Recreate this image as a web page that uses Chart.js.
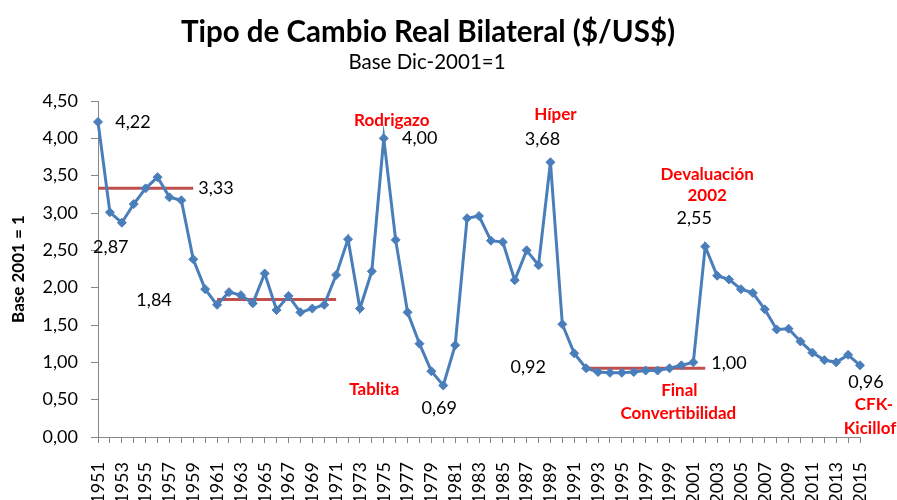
<!DOCTYPE html>
<html>
<head>
<meta charset="utf-8">
<script src="https://cdn.jsdelivr.net/npm/chart.js@4.4.1/dist/chart.umd.min.js"></script>
<style>
  html, body { margin: 0; padding: 0; background: #fff; }
  #wrap { width: 897px; height: 500px; }
</style>
</head>
<body>
<div id="wrap"><canvas id="tcrChart" width="897" height="500"></canvas></div>
<script>
// años 1951-2015
const years = [];
for (let y = 1951; y <= 2015; y++) years.push(String(y));

// TCR bilateral, base dic-2001 = 1
const tcr = [
    4.22, 3.01, 2.87, 3.12, 3.33, 3.48, 3.21, 3.17, 2.38, 1.98,   // 1951-1960
    1.77, 1.94, 1.90, 1.79, 2.19, 1.70, 1.89, 1.67, 1.72, 1.77,   // 1961-1970
    2.17, 2.65, 1.72, 2.22, 4.00, 2.64, 1.67, 1.25, 0.88, 0.69,   // 1971-1980
    1.23, 2.93, 2.96, 2.63, 2.61, 2.10, 2.50, 2.30, 3.68, 1.51,   // 1981-1990
    1.12, 0.92, 0.87, 0.86, 0.86, 0.87, 0.89, 0.89, 0.92, 0.96,   // 1991-2000
    1.00, 2.55, 2.16, 2.11, 1.98, 1.93, 1.71, 1.44, 1.45, 1.28,   // 2001-2010
    1.13, 1.03, 1.00, 1.10, 0.96                                  // 2011-2015
];

// promedios por periodo
const avgFrom = ['1951', '1961', '1992'];
const avgTo = ['1959', '1971', '2002'];
const avgValue = [3.33, 1.84, 0.92];

const yTicks = [0, 0.5, 1, 1.5, 2, 2.5, 3, 3.5, 4, 4.5];

const FONT = 'Lato, "Open Sans", sans-serif';
const fmt = v => v.toFixed(2).replace('.', ',');

// one dataset per average period, null outside the range
const avgDatasets = avgValue.map((v, i) => {
    const a = years.indexOf(avgFrom[i]);
    const b = years.indexOf(avgTo[i]);
    return {
        data: years.map((_, k) => (k >= a && k <= b ? v : null)),
        borderColor: '#C0504D',
        borderWidth: 3,
        pointRadius: 0,
        spanGaps: false,
        order: 1
    };
});

// text notes, anchored to a year/value, offset in px
const notes = [
    { text: '4,22', year: '1951', value: 4.22, dx: 35, dy: 0 },
    { text: '2,87', year: '1953', value: 2.87, dx: -11, dy: 24 },
    { text: '3,33', year: '1959', value: 3.33, dx: 5, dy: 0, align: 'left' },
    { text: '1,84', year: '1961', value: 1.84, dx: -63, dy: 1 },
    { text: '4,00', year: '1975', value: 4.00, dx: 36, dy: 0 },
    { text: '0,69', year: '1980', value: 0.69, dx: -4, dy: 23 },
    { text: '3,68', year: '1989', value: 3.68, dx: -8, dy: -23 },
    { text: '0,92', year: '1992', value: 0.92, dx: -58, dy: -1 },
    { text: '2,55', year: '2002', value: 2.55, dx: -11, dy: -28 },
    { text: '1,00', year: '2001', value: 1.00, dx: 18, dy: 1, align: 'left' },
    { text: '0,96', year: '2015', value: 0.96, dx: 6, dy: 17 },
    { text: 'Rodrigazo', year: '1975', value: 4.00, dx: 8, dy: -18, red: true },
    { text: 'Tablita', year: '1980', value: 0.69, dx: -69, dy: 4, red: true },
    { text: 'Híper', year: '1989', value: 3.68, dx: 5, dy: -48, red: true },
    { text: 'Devaluación', year: '2002', value: 2.55, dx: 2, dy: -72, red: true },
    { text: '2002', year: '2002', value: 2.55, dx: 2, dy: -51, red: true },
    { text: 'Final', year: '2001', value: 1.00, dx: -14, dy: 28, red: true },
    { text: 'Convertibilidad', year: '2001', value: 1.00, dx: -15, dy: 51, red: true },
    { text: 'CFK-', year: '2015', value: 0.96, dx: 14, dy: 39, red: true },
    { text: 'Kicillof', year: '2015', value: 0.96, dx: 10, dy: 63, red: true }
];

const notesPlugin = {
    id: 'notes',
    afterDraw(chart) {
        const ctx = chart.ctx;
        const xs = chart.scales.x, ys = chart.scales.y;
        ctx.save();
        // titles
        ctx.fillStyle = '#000';
        ctx.textAlign = 'center';
        ctx.textBaseline = 'middle';
        ctx.font = 'bold 29.5px ' + FONT;
        ctx.fillText('Tipo de Cambio Real Bilateral ($/US$)', 428, 32);
        ctx.font = '20.5px ' + FONT;
        ctx.fillText('Base Dic-2001=1', 427, 62);

        notes.forEach(n => {
            const x = xs.getPixelForValue(years.indexOf(n.year)) + n.dx;
            const y = ys.getPixelForValue(n.value) + n.dy;
            ctx.textAlign = n.align || 'center';
            if (n.red) {
                ctx.fillStyle = '#FF0000';
                ctx.font = 'bold 17px ' + FONT;
            } else {
                ctx.fillStyle = '#000';
                ctx.font = '18px ' + FONT;
            }
            ctx.fillText(n.text, x, y);
        });
        ctx.restore();
    }
};

document.addEventListener('DOMContentLoaded', function () {
    const ctx = document.getElementById('tcrChart').getContext('2d');

    new Chart(ctx, {
        type: 'line',
        data: {
            labels: years,
            datasets: [{
                data: tcr,
                borderColor: '#4A7EBB',
                backgroundColor: '#4A7EBB',
                borderWidth: 3,
                pointStyle: 'rectRot',
                pointRadius: 4.5,
                pointBorderWidth: 1,
                tension: 0,
                order: 0
            }].concat(avgDatasets)
        },
        options: {
            responsive: false,
            animation: false,
            layout: { padding: { top: 101, right: 37, left: 0, bottom: 0 } },
            plugins: {
                legend: { display: false },
                tooltip: { enabled: false }
            },
            scales: {
                x: {
                    offset: false,
                    border: { color: '#868686', width: 1 },
                    grid: { drawOnChartArea: false, color: '#868686', tickLength: 6 },
                    ticks: {
                        autoSkip: false,
                        minRotation: 90,
                        maxRotation: 90,
                        padding: 19,
                        color: '#000',
                        font: { family: FONT, size: 18 },
                        callback: (v, i) => (i % 2 === 0 ? years[i] : '')
                    },
                    afterFit: s => {
                        s.height = 63;
                        s.paddingLeft = 0;
                        s.paddingRight = 0;
                    }
                },
                y: {
                    min: 0,
                    max: 4.5,
                    border: { color: '#868686', width: 1 },
                    grid: { drawOnChartArea: false, color: '#868686', tickLength: 7 },
                    afterBuildTicks: s => { s.ticks = yTicks.map(v => ({ value: v })); },
                    ticks: {
                        padding: 13,
                        color: '#000',
                        font: { family: FONT, size: 18 },
                        callback: v => fmt(v)
                    },
                    title: {
                        display: true,
                        text: 'Base 2001 = 1',
                        color: '#000',
                        font: { family: FONT, size: 17, weight: 'bold' },
                        padding: { top: 8, bottom: 0 }
                    },
                    afterFit: s => { s.width = 98; }
                }
            }
        },
        plugins: [notesPlugin]
    });
});
</script>
</body>
</html>
